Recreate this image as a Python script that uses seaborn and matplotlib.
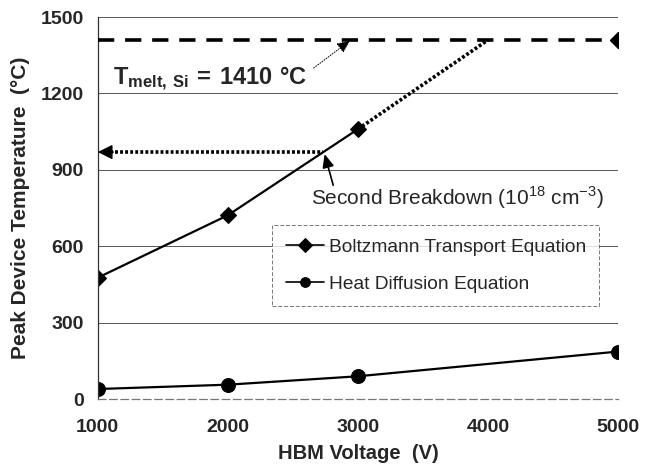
import matplotlib
matplotlib.use('Agg')
import matplotlib.pyplot as plt
import seaborn as sns
import pandas as pd

# Data
voltage = [1000, 2000, 3000, 5000]
bte_temp = [477, 722, 1060, 1410]     # Boltzmann Transport Equation
hde_temp = [40, 57, 90, 187]          # Heat Diffusion Equation
t_melt = 1410
breakdown_temp = 970
extrap_v = [3000, 4000]
extrap_t = [1060, 1410]
x_ticks = [1000, 2000, 3000, 4000, 5000]
y_ticks = [0, 300, 600, 900, 1200, 1500]

sns.set_style('white')
plt.rcParams['font.family'] = ['Liberation Sans', 'DejaVu Sans']
plt.rcParams['mathtext.fontset'] = 'custom'
plt.rcParams['mathtext.rm'] = 'Liberation Sans'
plt.rcParams['mathtext.bf'] = 'Liberation Sans:bold'

fig = plt.figure(figsize=(6.52, 4.73), dpi=100)
ax = fig.add_axes([0.150, 0.156, 0.798, 0.808])

df_bte = pd.DataFrame({'V': voltage[:3], 'T': bte_temp[:3]})
df_hde = pd.DataFrame({'V': voltage, 'T': hde_temp})

sns.lineplot(data=df_bte, x='V', y='T', ax=ax, color='black', lw=1.6,
             marker='D', markersize=8, markeredgecolor='black',
             label='Boltzmann Transport Equation')
sns.lineplot(data=df_hde, x='V', y='T', ax=ax, color='black', lw=1.6,
             marker='o', markersize=10, markeredgecolor='black',
             label='Heat Diffusion Equation')

# melting point dashed line with last BTE point
ax.plot([voltage[0], voltage[-1]], [t_melt, t_melt], color='black', lw=2.6,
        dashes=(4.5, 3), zorder=3)
ax.plot(voltage[-1], bte_temp[-1], marker='D', markersize=8, color='black', zorder=4)

# dotted extrapolation
ax.plot(extrap_v, extrap_t, color='black', lw=2.6, dashes=(0.8, 0.6), zorder=3)

# horizontal dotted arrow to axis
x_cross = 2000 + (breakdown_temp - 722) / (1060 - 722) * 1000
ax.plot([1090, x_cross], [breakdown_temp, breakdown_temp], color='black',
        lw=2.6, dashes=(0.8, 0.6), zorder=3)
ax.annotate('', xy=(1000, breakdown_temp), xytext=(1120, breakdown_temp),
            arrowprops=dict(arrowstyle='-|>,head_length=0.9,head_width=0.45',
                            color='black', lw=1, shrinkA=0, shrinkB=0))

# Second breakdown annotation
ax.annotate('', xy=(x_cross + 10, breakdown_temp - 8), xytext=(2810, 840),
            arrowprops=dict(arrowstyle='-|>,head_length=0.8,head_width=0.35',
                            color='black', lw=1.2, shrinkA=0, shrinkB=0))
ax.text(2640, 792, r'Second Breakdown (10$^{18}$ cm$^{-3}$)', fontsize=15,
        va='center', ha='left')

# T_melt label with thin dotted arrow
ax.text(1115, 1258, r'$\mathbf{T_{melt,\,Si}}$$\mathbf{\,=\,1410\ °C}$', fontsize=17,
        fontweight='bold', va='center', ha='left')
ax.annotate('', xy=(2940, 1408), xytext=(2660, 1300),
            arrowprops=dict(arrowstyle='-|>,head_length=0.8,head_width=0.35',
                            color='black', lw=0.7, linestyle=':',
                            shrinkA=0, shrinkB=0))

ax.set_xlim(1000, 5000)
ax.set_ylim(0, 1500)
ax.set_xticks(x_ticks)
ax.set_yticks(y_ticks)
ax.yaxis.grid(True, color='#555555', lw=0.7)
ax.xaxis.grid(False)
for s in ['top', 'right']:
    ax.spines[s].set_visible(False)
for s in ['left', 'bottom']:
    ax.spines[s].set_color('#333333')
    ax.spines[s].set_linewidth(0.9)
ax.spines['bottom'].set_linestyle((0, (6, 3)))
ax.spines['bottom'].set_color('#777777')

ax.tick_params(axis='both', which='both', labelsize=14, length=4,
               direction='inout', color='#333333')
ax.tick_params(axis='x', pad=12)
ax.tick_params(axis='y', pad=8)
for lbl in ax.get_xticklabels() + ax.get_yticklabels():
    lbl.set_fontweight('bold')

ax.set_xlabel('HBM Voltage  (V)', fontsize=14.5, fontweight='bold', labelpad=6)
ax.set_ylabel('Peak Device Temperature  (°C)', fontsize=15, fontweight='bold',
              labelpad=8)

leg = ax.legend(loc='upper left', bbox_to_anchor=(0.335, 0.455), fontsize=13.8,
                frameon=True, fancybox=False, borderpad=0.7, labelspacing=1.0,
                handlelength=2.0, handletextpad=0.25, borderaxespad=0)
leg.get_frame().set_edgecolor('#555555')
leg.get_frame().set_linewidth(0.7)
leg.get_frame().set_linestyle((0, (4, 2)))
for h in leg.legend_handles:
    h.set_markersize(7)
    h.set_linewidth(1.2)

fig.savefig('out.png', dpi=100)
